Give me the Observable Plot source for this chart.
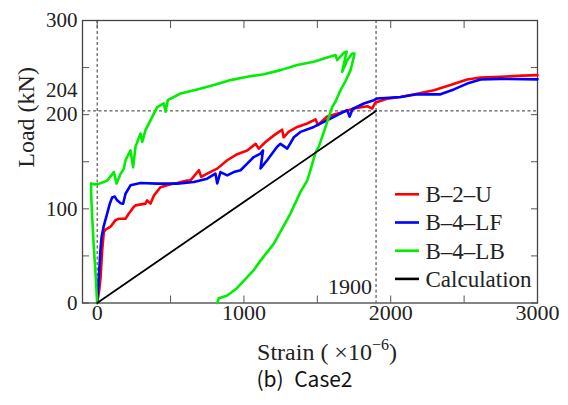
<!DOCTYPE html>
<html><head><meta charset="utf-8">
<script src="https://cdn.jsdelivr.net/npm/d3@7"></script>
<script src="https://cdn.jsdelivr.net/npm/@observablehq/plot@0.6"></script>
<style>body{margin:0;background:#fff}</style>
</head><body><div id="chart"></div>
<script>
const seriesNames = ["B\u20132\u2013U", "B\u20134\u2013LF", "B\u20134\u2013LB", "Calculation"];
const seriesColors = ["#ff0000", "#0000ff", "#00ee00", "#000000"];
const seriesWidths = [2.6, 2.6, 2.6, 1.8];

const strainB2U = [0,15,23,34,45,57,91,125,148,193,216,249,261,329,340,363,386,431,477,522,545,613,636,693,709,749,818,886,954,1022,1079,1101,1147,1204,1238,1260,1270,1306,1363,1431,1488,1504,1567,1658,1749,1840,1874,1896,1976,2067,2180,2294,2407,2521,2612,2748,2900,3000];
const loadB2U   = [0,15,27,56,75,78,81,88,89.5,89.5,95,102,103.7,105.5,109,105.5,114,123,125,126.8,127.5,130,130.3,141,134,137.4,142.7,151.6,158,162,169,164,171,178,181.7,184,176,182,187,190.6,195,189,198,202,206.5,209,206.6,213,217,218.7,222.3,226,231.4,237.4,239.5,240.2,241.5,242];

const strainB4LF = [0,11,22,30,45,68,85,102,120,136,160,177,193,227,295,409,545,659,749,806,818,840,886,931,977,1022,1067,1113,1130,1113,1158,1226,1249,1295,1340,1385,1476,1613,1703,1720,1740,1817,1885,1908,2067,2180,2339,2430,2521,2612,2748,3000];
const loadB4LF   = [0,27,56,70,82,95,105,112,113,109,106,105.5,116,125,127.5,126.8,126.8,128.5,132,137.4,127,139,135.5,139,141,148,155,158.7,162,143,151.6,166,169,164,176,181.7,187,197.7,204.8,198,206,211.9,215.4,217.2,218.7,221.6,221.6,226.8,233,237.4,238,237.5];

const strainB4LB = [0,-11,-23,-34,-41,-41,-20,0,45,68,114,132,159,182,193,227,245,261,295,307,329,363,409,454,466,481,568,681,795,909,1022,1136,1249,1363,1476,1567,1624,1635,1681,1700,1669,1705,1737,1753,1749,1726,1690,1658,1624,1601,1556,1510,1488,1453,1431,1385,1317,1204,1113,1067,1022,954,886,829,818];
const loadB4LB   = [0,31,59,91,116,127,126,126,128.5,130,139,126.8,137,142.7,151.6,162,144,165.8,180,171,183.5,194,208,212,203,215.4,222.5,226.8,231.4,236.7,240.2,243,247.3,252.7,256.2,260.8,263.3,258,265.7,267,245.5,258,265,265,261.5,247,235,226,214,208,187,166,160,141,130,118,95,63,45,35,27.5,16,8,5,0];

const strainCalc = [0, 1900];
const loadCalc   = [0, 204];

const xTicks = [0, 500, 1000, 1500, 2000, 2500, 3000];
const yTicks = [0, 50, 100, 150, 200, 250, 300];
const xTickLabels = [0, 1000, 2000, 3000];
const yTickLabels = [0, 100, 200, 300];
const refStrain = 1900;
const refLoad = 204;
const xTitle = ["Strain ( \u00d710", "\u22126", ")"];
const yTitle = "Load (kN)";
const caption = "(b)\u2002Case2";

const strains = [strainB2U, strainB4LF, strainB4LB, strainCalc];
const loads = [loadB2U, loadB4LF, loadB4LB, loadCalc];
const rows = seriesNames.flatMap((name, i) => strains[i].map((s, j) => ({series: name, strain: s, load: loads[i][j]})));

const serif = "'Liberation Serif', 'Times New Roman', serif";
const ink = "#222";

const lineMarks = seriesNames.map((name, i) =>
  Plot.line(rows.filter(r => r.series === name), {x: "strain", y: "load", stroke: seriesColors[i], strokeWidth: seriesWidths[i], strokeLinejoin: "round", strokeLinecap: "round"})
);

function legendMark(index, scales, values, dims) {
  const g = d3.create("svg:g");
  const x0 = dims.width - dims.marginRight - 142;
  const y0 = dims.marginTop + 174.3;
  seriesNames.forEach((name, i) => {
    const y = y0 + i * 28.2;
    g.append("line").attr("x1", x0).attr("x2", x0 + 24).attr("y1", y).attr("y2", y)
      .attr("stroke", seriesColors[i]).attr("stroke-width", 2.6);
    g.append("text").attr("x", x0 + 30.5).attr("y", y).attr("dy", "0.34em")
      .attr("text-anchor", "start")
      .style("font-family", serif).style("font-size", "23px").attr("fill", ink).text(name);
  });
  return g.node();
}

function xTitleMark(index, scales, values, dims) {
  const t = d3.create("svg:text")
    .attr("x", (dims.marginLeft + dims.width - dims.marginRight) / 2 + 17.5)
    .attr("y", dims.height - dims.marginBottom + 57.5)
    .attr("text-anchor", "middle").style("font-family", serif).style("font-size", "24px").attr("fill", ink);
  t.append("tspan").text(xTitle[0]);
  t.append("tspan").style("font-size", "16px").attr("dy", -10).text(xTitle[1]);
  t.append("tspan").attr("dy", 10).text(xTitle[2]);
  return t.node();
}

const chart = Plot.plot({
  width: 568,
  height: 405,
  marginTop: 20,
  marginRight: 31,
  marginBottom: 102.5,
  marginLeft: 82,
  x: {domain: [-100, 3000]},
  y: {domain: [0, 300]},
  style: {fontFamily: serif, background: "#fff"},
  marks: [
    Plot.ruleX([0, refStrain], {stroke: "#333", strokeWidth: 1, strokeDasharray: "3,2.5"}),
    Plot.ruleY([refLoad], {stroke: "#333", strokeWidth: 1, strokeDasharray: "3,2.5"}),
    Plot.axisX({anchor: "bottom", ticks: xTicks, tickSize: -7, tickFormat: () => "", label: null, stroke: "#555"}),
    Plot.axisX({anchor: "top", ticks: xTicks, tickSize: -7, tickFormat: () => "", label: null, stroke: "#555"}),
    Plot.axisY({anchor: "left", ticks: yTicks, tickSize: -7, tickFormat: () => "", label: null, stroke: "#555"}),
    Plot.axisY({anchor: "right", ticks: yTicks, tickSize: -7, tickFormat: () => "", label: null, stroke: "#555"}),
    Plot.frame({stroke: "#444", strokeWidth: 1.3}),
    ...lineMarks,
    Plot.text(xTickLabels, {x: d => d, frameAnchor: "bottom", dy: 17, text: d => String(d), fontSize: 22, fontFamily: serif, fill: ink}),
    Plot.text(yTickLabels, {y: d => d, frameAnchor: "left", dx: -5, textAnchor: "end", text: d => String(d), fontSize: 21, fontFamily: serif, fill: ink}),
    Plot.text([refLoad], {y: d => d, frameAnchor: "left", dx: -5, dy: -21, textAnchor: "end", text: d => String(d), fontSize: 21, fontFamily: serif, fill: ink}),
    Plot.text([refStrain], {x: d => d, frameAnchor: "bottom", dx: -4, dy: -9.5, textAnchor: "end", text: d => String(d), fontSize: 22, fontFamily: serif, fill: ink}),
    Plot.text([yTitle], {frameAnchor: "left", rotate: -90, dx: -56, dy: 6, fontSize: 24, fontFamily: serif, fill: ink}),
    Plot.text([caption], {frameAnchor: "bottom", dx: -5.5, dy: 83.5, fontSize: 21, fontFamily: "Noto Sans CJK JP", fill: "#111"}),
    xTitleMark,
    legendMark
  ]
});
document.getElementById("chart").appendChild(chart);
</script>
</body></html>
